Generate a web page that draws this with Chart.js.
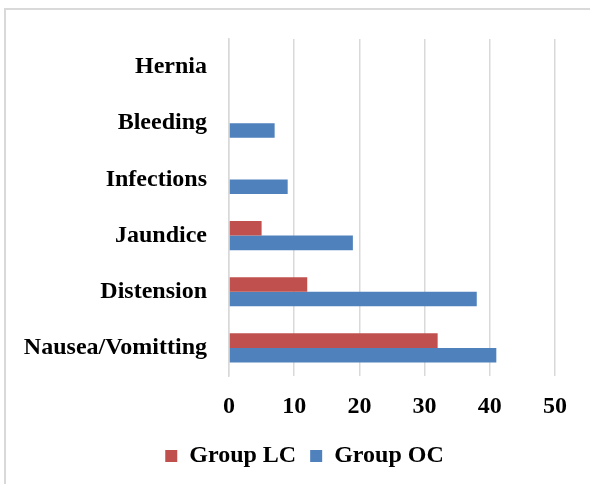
<!DOCTYPE html>
<html>
<head>
<meta charset="utf-8">
<script src="https://cdn.jsdelivr.net/npm/chart.js@4/dist/chart.umd.min.js"></script>
<style>
  html, body { margin: 0; padding: 0; background: #fff; }
  #wrap { position: relative; width: 590px; height: 484px; }
  #frame { position: absolute; left: 4px; top: 8px; right: 0; bottom: 0;
           border-left: 2px solid #d9d9d9; border-top: 2px solid #d9d9d9; }
  canvas { position: absolute; left: 0; top: 0; }
</style>
</head>
<body>
<div id="wrap">
  <div id="frame"></div>
  <canvas id="chart" width="590" height="484"></canvas>
</div>
<script>
const complications = ['Hernia', 'Bleeding', 'Infections', 'Jaundice', 'Distension', 'Nausea/Vomitting'];
const groupLC = [0, 0, 0, 5, 12, 32];
const groupOC = [0, 7, 9, 19, 38, 41];
const xTicks = [0, 10, 20, 30, 40, 50];

const serif = { family: '"Liberation Serif", "Times New Roman", serif', size: 24, weight: 'bold' };
Chart.defaults.color = '#000';

// nudge the legend to the right, it sits off-centre in the original
const legendShift = {
  id: 'legendShift',
  afterLayout(chart) {
    chart.legend.left += 27;
    chart.legend.right += 27;
  }
};

const ctx = document.getElementById('chart').getContext('2d');
new Chart(ctx, {
  type: 'bar',
  data: {
    labels: complications,
    datasets: [
      { label: 'Group LC', data: groupLC, backgroundColor: '#c0504d', borderWidth: 0 },
      { label: 'Group OC', data: groupOC, backgroundColor: '#4f81bd', borderWidth: 0 }
    ]
  },
  options: {
    indexAxis: 'y',
    responsive: false,
    animation: false,
    categoryPercentage: 0.52,
    barPercentage: 1.0,
    layout: { padding: { top: 39, right: 35, bottom: 6, left: 0 } },
    scales: {
      x: {
        min: 0,
        max: 50,
        afterBuildTicks: function(scale) {
          scale.ticks = xTicks.map(v => ({ value: v }));
        },
        grid: { color: '#d9d9d9', lineWidth: 1.5, drawTicks: false },
        border: { display: false },
        ticks: { font: serif, padding: 16 },
        afterFit: function(scale) { scale.height = 54; }
      },
      y: {
        grid: { display: false, drawTicks: false },
        border: { color: '#d9d9d9', width: 1.5 },
        ticks: { font: serif, padding: 22 },
        afterFit: function(scale) { scale.width = 229; }
      }
    },
    plugins: {
      legend: {
        position: 'bottom',
        labels: { font: serif, boxWidth: 12, boxHeight: 12, padding: 14 }
      },
      tooltip: { enabled: false }
    }
  },
  plugins: [legendShift]
});
</script>
</body>
</html>
